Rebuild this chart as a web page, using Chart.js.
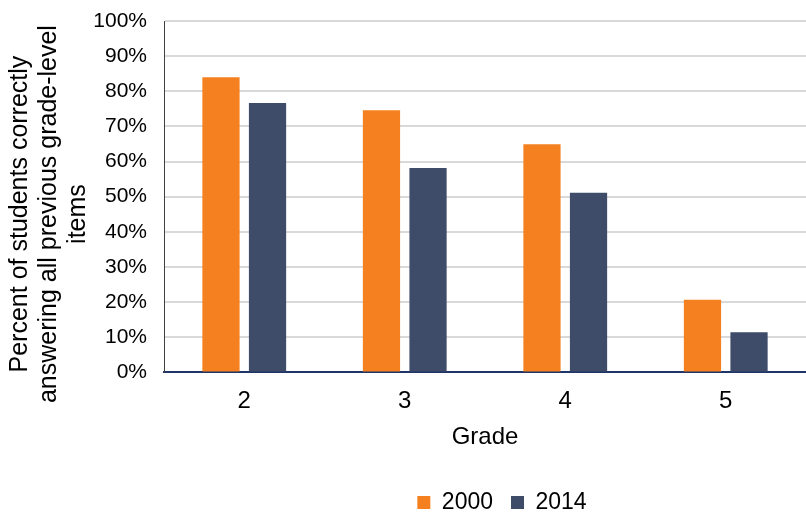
<!DOCTYPE html>
<html>
<head>
<meta charset="utf-8">
<script src="https://cdn.jsdelivr.net/npm/chart.js@4/dist/chart.umd.min.js"></script>
<style>
html,body{margin:0;padding:0;background:#fff;}
#wrap{width:806px;height:513px;position:relative;}
</style>
</head>
<body>
<div id="wrap"><canvas id="c" width="806" height="513"></canvas></div>
<script>
const categories = ["2", "3", "4", "5"];
const series2000 = [84.0, 74.6, 64.9, 20.7];
const series2014 = [76.7, 58.2, 51.1, 11.4];
const seriesNames = ["2000", "2014"];
const yTitle = ["Percent of students correctly", "answering all previous grade-level", "items"];
const xTitle = "Grade";

Chart.defaults.font.family = "'Liberation Sans', Arial, sans-serif";
Chart.defaults.color = "#000";

const legendShift = {
  id: 'legendShift',
  afterLayout(chart) {
    const lg = chart.legend;
    if (lg) { lg.left += 96; lg.right += 96; }
  }
};

// trailing spaces nudge the rotated title slightly lower, as in the original
const yTitleLines = yTitle.map(s => s + '     ');

new Chart(document.getElementById('c'), {
  type: 'bar',
  data: {
    labels: categories,
    datasets: [
      { label: seriesNames[0], data: series2000, backgroundColor: '#F5801F', borderWidth: 0,
        categoryPercentage: 0.58, barPercentage: 0.8 },
      { label: seriesNames[1], data: series2014, backgroundColor: '#3E4C69', borderWidth: 0,
        categoryPercentage: 0.58, barPercentage: 0.8 }
    ]
  },
  plugins: [legendShift],
  options: {
    responsive: false,
    animation: false,
    layout: { padding: { top: 21, right: 0, left: 6, bottom: -11 } },
    plugins: {
      legend: {
        position: 'bottom',
        labels: { font: { size: 23 }, boxWidth: 13, boxHeight: 13, padding: 18, color: '#000' }
      },
      tooltip: { enabled: false }
    },
    scales: {
      x: {
        grid: { display: false, drawTicks: false },
        border: { display: true, color: '#1F3568', width: 2 },
        ticks: { font: { size: 24 }, padding: 15, color: '#000' },
        title: { display: true, text: xTitle, font: { size: 24 }, color: '#000', padding: { top: -8, bottom: 21 } }
      },
      y: {
        min: 0, max: 100,
        afterFit: (scale) => { scale.width = 158; scale.paddingTop = 0; scale.paddingBottom = 0; },
        ticks: { stepSize: 10, font: { size: 21 }, padding: 17, color: '#000',
          callback: v => v + '%' },
        grid: { color: '#D9D9D9', lineWidth: 2, drawTicks: false },
        border: { display: true, color: '#404040', width: 1 },
        title: { display: true, text: yTitleLines, font: { size: 25, lineHeight: 1.15 }, color: '#000', padding: { top: 0, bottom: 0 } }
      }
    }
  }
});
</script>
</body>
</html>
